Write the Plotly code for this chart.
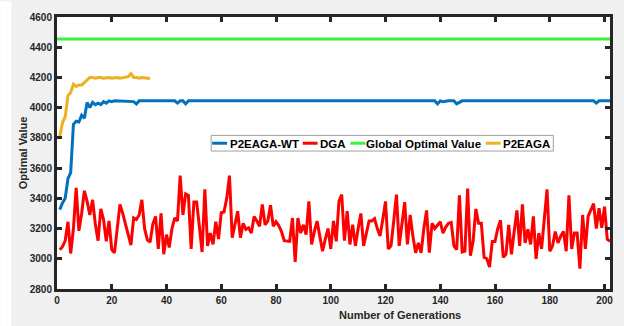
import plotly.graph_objects as go

# ---- data ----
gen_full = list(range(1, 203))

p2eaga_wt = [3325, 3370, 3400, 3530, 3570, 3890, 3910, 3905, 3950, 3930,
             4035, 4000, 4035, 4020, 4030, 4020, 4040, 4030, 4045, 4040,
             4045, 4045, 4040, 4045, 4045, 4045, 4045, 4040, 4025, 4045,
             4045, 4045, 4045, 4045, 4045, 4045, 4045, 4045, 4045, 4045,
             4045, 4045, 4045, 4030, 4045, 4045, 4025, 4045, 4045, 4045] + \
            [4045] * 88 + [4025, 4045, 4040, 4045, 4045, 4045, 4045, 4025, 4035, 4045] + \
            [4045] * 48 + [4030] + [4045] * 7

dga = [3060, 3080, 3120, 3245, 3035, 3200, 3470, 3185, 3300, 3450,
       3380, 3290, 3390, 3230, 3120, 3330, 3260, 3115, 3250, 3060,
       3040, 3200, 3360, 3300, 3230, 3150, 3090, 3270, 3260, 3290,
       3390, 3200, 3125, 3110, 3230, 3280, 3065, 3300, 3030, 3160,
       3075, 3200, 3270, 3250, 3550, 3290, 3430, 3420, 3065, 3375,
       3375, 3215, 3045, 3460, 3085, 3170, 3095, 3245, 3130, 3305,
       3310, 3400, 3550, 3140, 3230, 3315, 3140, 3235, 3195, 3205,
       3170, 3280, 3250, 3215, 3360, 3225, 3250, 3355, 3215, 3245,
       3220, 3180, 3120, 3115, 3115, 3270, 2980, 3270, 3170, 3225,
       3160, 3380, 3095, 3180, 3250, 3150, 3050, 3130, 3200, 3065,
       3250, 3115, 3380, 3425, 3120, 3315, 3095, 3225, 3085, 3200,
       3300, 3085, 3180, 3250, 3250, 3265, 3200, 3150, 3260, 3380,
       3065, 3085, 3250, 3425, 3085, 3230, 3375, 3095, 3290, 3150,
       3040, 3105, 3040, 3200, 3320, 3040, 3235, 3200, 3225, 3245,
       3170, 3210, 3235, 3240, 3085, 3060, 3420, 3045, 3050, 3465,
       3020, 3115, 3330, 3235, 3235, 3010, 3000, 2945, 3115, 3115,
       3200, 3255, 3010, 3030, 3225, 3030, 3180, 3320, 3085, 3360,
       3105, 3195, 3095, 3280, 3000, 3170, 3065, 3250, 3460, 3050,
       3085, 3180, 3105, 3150, 3180, 3050, 3420, 3065, 3170, 3170,
       2935, 3290, 3065, 3280, 3320, 3365, 3200, 3335, 3205, 3345,
       3130, 3115]

gen_short = list(range(1, 35))
p2eaga = [3810, 3900, 3940, 4080, 4100, 4155, 4140, 4150, 4150, 4165,
          4180, 4200, 4200, 4195, 4200, 4200, 4195, 4200, 4200, 4195,
          4200, 4200, 4195, 4200, 4200, 4205, 4225, 4200, 4200, 4195,
          4200, 4195, 4195, 4195]

global_opt_x = [0, 202]
global_opt_y = [4455, 4455]

x_ticks = list(range(0, 201, 20))
y_ticks = list(range(2800, 4601, 200))

series_names = ["P2EAGA-WT", "DGA", "Global Optimal Value", "P2EAGA"]
series_colors = ["#0072BD", "#FF0000", "#3CF03C", "#EDB120"]

FONT = "Liberation Sans, Arial, Helvetica, sans-serif"
AX = "#262626"

fig = go.Figure()
for xs, ys, nm, col in [(gen_full, p2eaga_wt, series_names[0], series_colors[0]),
                        (gen_full, dga, series_names[1], series_colors[1]),
                        (global_opt_x, global_opt_y, series_names[2], series_colors[2]),
                        (gen_short, p2eaga, series_names[3], series_colors[3])]:
    fig.add_trace(go.Scatter(x=xs, y=ys, mode="lines", name=nm,
                             line=dict(color=col, width=3), showlegend=False))

axis_common = dict(showline=True, linewidth=3, linecolor=AX, mirror="ticks",
                   ticks="inside", ticklen=5, tickwidth=2.5, tickcolor=AX,
                   showgrid=False, zeroline=False,
                   tickfont=dict(family=FONT, size=10, color="#262626", weight="bold"))

fig.update_xaxes(range=[0, 202], tickvals=x_ticks, **axis_common)
fig.update_yaxes(range=[2800, 4600], tickvals=y_ticks,
                 title=dict(text="Optimal Value", standoff=0,
                            font=dict(family=FONT, size=11, color="#262626", weight="bold")),
                 **axis_common)

# pixel -> paper helpers (plot area spans x 57..613, y 11..289)
def px(x):
    return (x - 57) / 556


def py(y):
    return (289 - y) / 278


fig.add_annotation(text="Number of Generations", xref="paper", yref="paper",
                   x=px(402), y=py(316), showarrow=False,
                   xanchor="center", yanchor="middle",
                   font=dict(family=FONT, size=11, color="#262626", weight="bold"))

fig.add_shape(type="rect", xref="paper", yref="paper", layer="below",
              x0=px(0), x1=px(11), y0=py(330), y1=py(-5),
              fillcolor="white", line=dict(width=0))

# legend box (drawn in the MATLAB compact style)
fig.add_shape(type="rect", xref="paper", yref="paper", layer="above",
              x0=px(212), x1=px(556), y0=py(148), y1=py(132),
              fillcolor="white", line=dict(color="#A0A0A0", width=1))
legend_line_x = [213, 304, 352, 488]
legend_text_x = [229, 319, 366, 503]
for lx, tx, nm, col in zip(legend_line_x, legend_text_x, series_names, series_colors):
    fig.add_shape(type="line", xref="paper", yref="paper", layer="above",
                  x0=px(lx), x1=px(lx + 15), y0=py(140), y1=py(140),
                  line=dict(color=col, width=3))
    fig.add_annotation(text=nm, xref="paper", yref="paper", x=px(tx), y=py(140.5),
                       showarrow=False, xanchor="left", yanchor="middle",
                       font=dict(family=FONT, size=11.5, color="#000000", weight="bold"))

fig.update_layout(
    width=624, height=326,
    margin=dict(l=57, r=11, t=11, b=37),
    paper_bgcolor="#F0F0F0", plot_bgcolor="white",
    showlegend=False,
)

fig.write_html("out.html", config={"displayModeBar": False},
               post_script="document.body.style.margin='0';document.body.style.overflow='hidden';")
